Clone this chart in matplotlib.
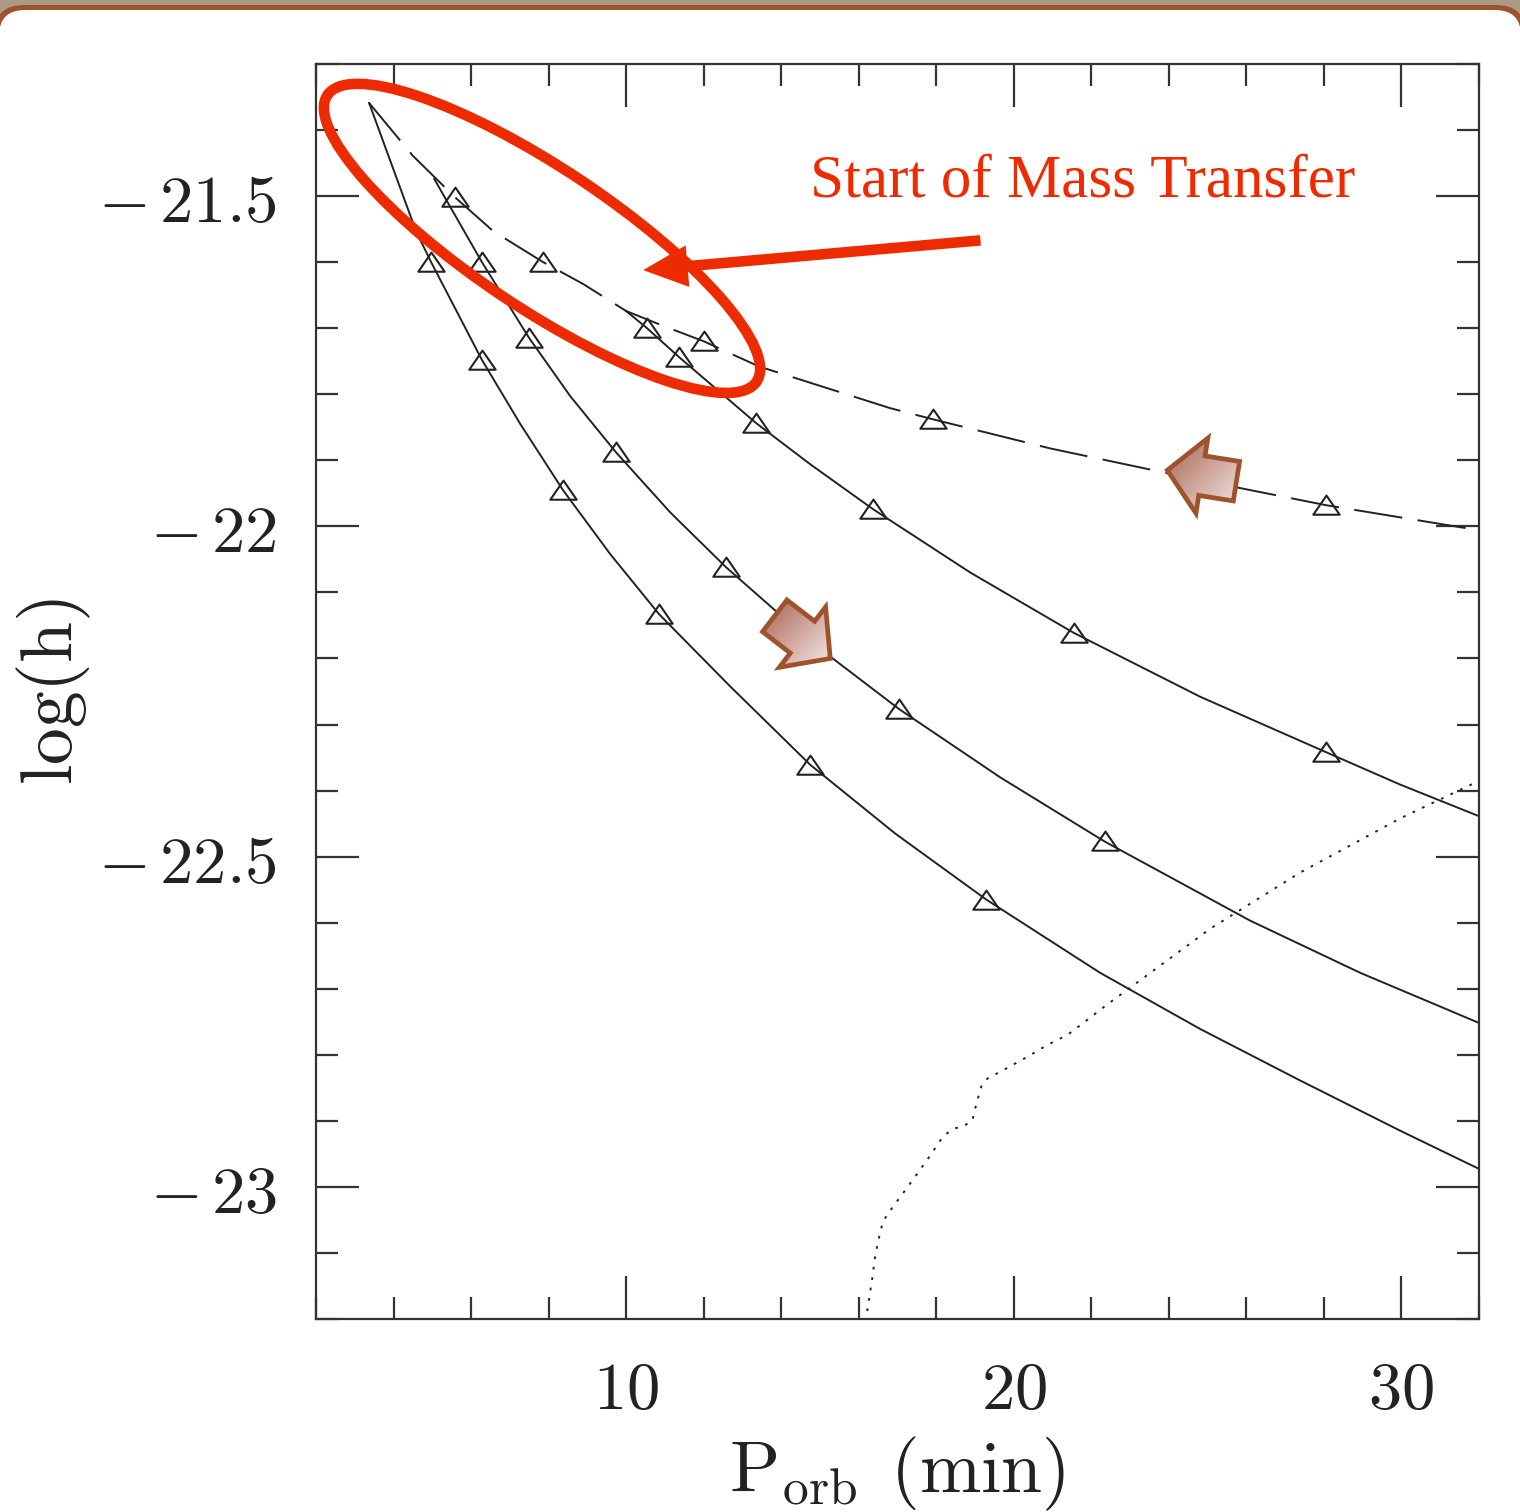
import numpy as np
import matplotlib
matplotlib.use("Agg")
import matplotlib.pyplot as plt
from matplotlib.patches import Ellipse, Polygon, FancyArrowPatch, FancyBboxPatch, Rectangle, ArrowStyle
from matplotlib.path import Path
from matplotlib.transforms import IdentityTransform
from matplotlib.ticker import MultipleLocator

plt.rcParams["mathtext.fontset"] = "cm"

# ===== DATA =====
# inspiral track (dashed), Porb in minutes vs log(h)
insp_p = [3.37, 4.50, 5.59, 6.57, 7.86, 8.89, 10.00, 10.85, 12.01, 13.43, 16.81, 17.92, 20.94, 24.81, 28.06, 32.01]
insp_h = [-21.359, -21.439, -21.502, -21.553, -21.600, -21.633, -21.674, -21.694, -21.720, -21.758,
          -21.821, -21.838, -21.882, -21.930, -21.968, -22.006]
insp_mp = [5.59, 7.86, 12.01, 17.92, 28.06]
insp_mh = [-21.502, -21.600, -21.720, -21.838, -21.968]

# mass transfer tracks (solid)
mt1_p = [3.37, 4.58, 4.97, 6.28, 7.27, 8.37, 9.59, 10.85, 12.68, 14.75, 16.94, 19.29, 22.23, 24.81, 27.39, 29.97, 32.01]
mt1_h = [-21.359, -21.553, -21.600, -21.748, -21.845, -21.945, -22.042, -22.133, -22.242, -22.361,
         -22.465, -22.565, -22.676, -22.761, -22.839, -22.915, -22.973]
mt1_mp = [4.97, 6.28, 8.37, 10.85, 14.75, 19.29]
mt1_mh = [-21.600, -21.748, -21.945, -22.133, -22.361, -22.565]

mt2_p = [5.05, 6.28, 7.50, 8.56, 9.74, 11.14, 12.58, 14.75, 17.05, 19.65, 22.34, 26.10, 28.94, 32.01]
mt2_h = [-21.474, -21.600, -21.715, -21.803, -21.888, -21.979, -22.062, -22.174, -22.277, -22.380,
         -22.477, -22.597, -22.676, -22.752]
mt2_mp = [6.28, 7.50, 9.74, 12.58, 17.05, 22.34]
mt2_mh = [-21.600, -21.715, -21.888, -22.062, -22.277, -22.477]

mt3_p = [10.00, 10.54, 11.37, 13.36, 14.75, 16.37, 18.88, 21.54, 24.81, 28.06, 29.97, 32.01]
mt3_h = [-21.674, -21.700, -21.744, -21.844, -21.906, -21.974, -22.070, -22.161, -22.258, -22.342,
         -22.391, -22.439]
mt3_mp = [10.54, 11.37, 13.36, 16.37, 21.54, 28.06]
mt3_mh = [-21.700, -21.744, -21.844, -21.974, -22.161, -22.342]

# sensitivity curve (dotted)
sens_p = [16.22, 16.35, 16.43, 16.56, 16.63, 16.81, 17.15, 17.51, 17.85, 18.18, 18.44, 18.70, 18.93,
          19.01, 19.08, 19.16, 19.32, 19.83, 20.35, 20.87, 21.38, 21.90, 22.36, 23.52, 25.07, 27.39,
          29.97, 32.01]
sens_h = [-23.188, -23.138, -23.102, -23.067, -23.052, -23.036, -23.009, -22.980, -22.952, -22.923,
          -22.912, -22.908, -22.900, -22.880, -22.865, -22.848, -22.836, -22.820, -22.803, -22.785,
          -22.770, -22.747, -22.726, -22.676, -22.609, -22.524, -22.442, -22.385]

x_ticks = [10, 20, 30]
x_labels = [r"$10$", r"$20$", r"$30$"]
y_ticks = [-23, -22.5, -22, -21.5]
y_labels = [r"$-\,23$", r"$-\,22.5$", r"$-\,22$", r"$-\,21.5$"]

RED = "#ee2a00"
BROWN = "#a0522d"
INK = "#222222"

fig = plt.figure(figsize=(15.2, 15.12), dpi=100)

# ===== BACKGROUND PANEL =====
bg = fig.add_axes([0, 0, 1, 1], zorder=-5)
bg.set_xlim(0, 1520)
bg.set_ylim(1512, 0)
bg.axis("off")
bg.add_patch(Rectangle((0, 0), 1520, 20, facecolor="#ab9a86", edgecolor="none"))
bg.add_patch(FancyBboxPatch((-6, 5), 1532, 1600, boxstyle="round,pad=0,rounding_size=30",
                            facecolor=BROWN, edgecolor="none"))
bg.add_patch(FancyBboxPatch((-1, 10), 1522, 1600, boxstyle="round,pad=0,rounding_size=26",
                            facecolor="white", edgecolor="none"))

# ===== MAIN AXES =====
ax = fig.add_axes([316 / 1520, 193 / 1512, 1163 / 1520, 1255 / 1512])
ax.set_facecolor("none")
ax.set_xlim(2, 32)
ax.set_ylim(-23.2, -21.3)

tri = Path([(-1, -0.7), (1, -0.7), (0, 0.75), (-1, -0.7)],
           [Path.MOVETO, Path.LINETO, Path.LINETO, Path.CLOSEPOLY])
mk = dict(ls="none", marker=tri, ms=19, mfc="none", mec=INK, mew=1.5)

LW = 1.4
ax.plot(insp_p, insp_h, color=INK, lw=LW, dashes=(25, 8))
ax.plot(mt1_p, mt1_h, color=INK, lw=LW)
ax.plot(mt2_p, mt2_h, color=INK, lw=LW)
ax.plot(mt3_p, mt3_h, color=INK, lw=LW)
ax.plot(sens_p, sens_h, color=INK, lw=LW, dashes=(1.4, 4))
for mp, mh in [(insp_mp, insp_mh), (mt1_mp, mt1_mh), (mt2_mp, mt2_mh), (mt3_mp, mt3_mh)]:
    ax.plot(mp, mh, **mk)

# ticks and labels
ax.set_xticks(x_ticks)
ax.set_xticklabels(x_labels)
ax.set_yticks(y_ticks)
ax.set_yticklabels(y_labels)
ax.xaxis.set_minor_locator(MultipleLocator(2))
ax.yaxis.set_minor_locator(MultipleLocator(0.1))
ax.tick_params(which="both", direction="in", top=True, right=True, width=1.6, color="#333333")
ax.tick_params(which="major", length=31, labelsize=48, labelcolor=INK)
ax.tick_params(which="minor", length=16)
ax.tick_params(axis="x", which="major", pad=27)
ax.tick_params(axis="y", which="major", pad=28)
for s in ax.spines.values():
    s.set_linewidth(1.6)
    s.set_color("#333333")

ax.set_xlabel(r"$\mathrm{P_{orb}\;\,(min)}$", fontsize=53, color=INK)
ax.xaxis.set_label_coords(0.5, -0.092)
ax.set_ylabel(r"$\mathrm{log(h)}$", fontsize=53, color=INK)
ax.yaxis.set_label_coords(-0.192, 0.5)

# ===== ANNOTATIONS =====
ax.text(14.75, -21.5, "Start of Mass Transfer", color=RED, fontsize=44,
        family="Liberation Serif", ha="left", va="baseline", zorder=6)

# ring round the onset region (drawn in pixel units around a data anchor)
cx, cy = ax.transData.transform((7.83, -21.564))
ax.add_patch(Ellipse((cx, cy), 516, 140, angle=-33.7, transform=IdentityTransform(),
                     facecolor="none", edgecolor=RED, lw=7.6, zorder=6, clip_on=False))

ax.add_patch(FancyArrowPatch((19.14, -21.567), (10.44, -21.612), mutation_scale=1,
                             arrowstyle=ArrowStyle("Simple", head_length=32, head_width=30, tail_width=7.6),
                             shrinkA=0, shrinkB=0, color=RED, lw=0, zorder=7))


def block_arrow(tip, angle, length=70, head_len=35, head_half=38, body_half=20):
    # outline in pixels, tip at origin pointing along +x
    pts = np.array([[0, 0], [-head_len, head_half], [-head_len, body_half], [-length, body_half],
                    [-length, -body_half], [-head_len, -body_half], [-head_len, -head_half]], float)
    a = np.deg2rad(angle)
    rot = np.array([[np.cos(a), -np.sin(a)], [np.sin(a), np.cos(a)]])
    disp = ax.transData.transform(tip) + pts @ rot.T
    verts = ax.transData.inverted().transform(disp)
    poly = Polygon(verts, closed=True, facecolor="none", edgecolor=BROWN, lw=3.4,
                   joinstyle="miter", zorder=8)
    ax.add_patch(poly)
    x0, y0 = verts.min(axis=0)
    x1, y1 = verts.max(axis=0)
    gx, gy = np.meshgrid(np.linspace(0, 1, 64), np.linspace(0, 1, 64))
    t = ((gx + (1 - gy)) / 2)[..., None]
    dark = np.array([168, 98, 82]) / 255
    light = np.array([244, 232, 229]) / 255
    img = dark * (1 - t) + light * t
    im = ax.imshow(img, origin="lower", extent=(x0, x1, y0, y1), aspect="auto",
                   interpolation="bilinear", zorder=7)
    im.set_clip_path(poly)


block_arrow((23.96, -21.915), 171)
block_arrow((15.265, -22.200), -37.5)

ax.set_xlim(2, 32)
ax.set_ylim(-23.2, -21.3)

fig.savefig("out.png", dpi=100)
